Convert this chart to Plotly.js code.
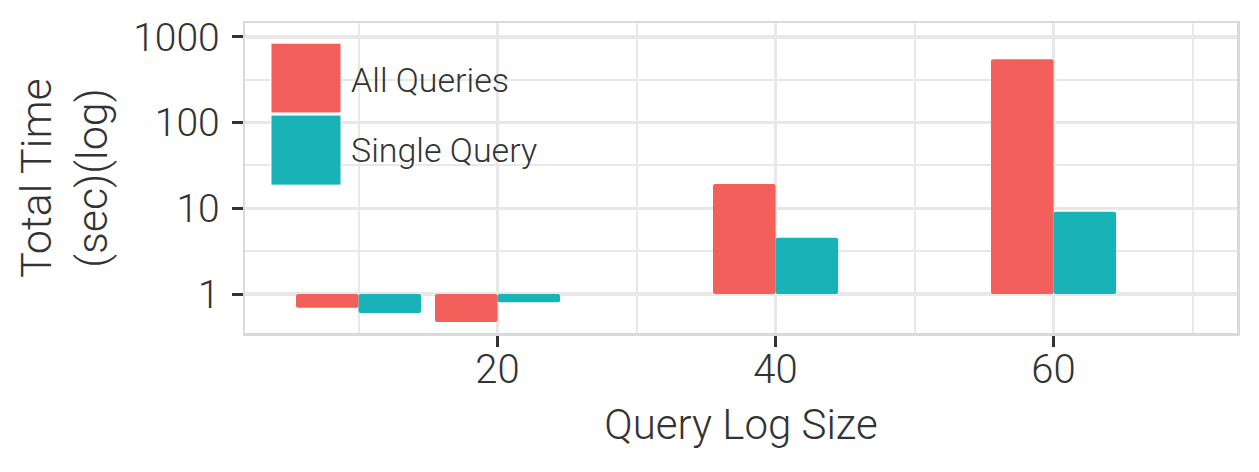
<!DOCTYPE html>
<html>
<head>
<meta charset="utf-8">
<script src="https://cdn.plot.ly/plotly-3.0.1.min.js"></script>
<style>html,body{margin:0;padding:0;background:#fff;}#chart{width:1259px;height:472px;}</style>
</head>
<body>
<div id="chart"></div>
<script>
// Data
var logSizes = [10, 20, 40, 60];
var allQueries = [0.69, 0.47, 19.2, 550];
var singleQuery = [0.60, 0.80, 4.54, 9.14];
var seriesNames = ['All Queries', 'Single Query'];
var yTickVals = [1, 10, 100, 1000];
var yTickText = ['1', '10', '100', '1000'];
var xTickVals = [20, 40, 60];

var RED = '#F35F5B', TEAL = '#19B3B7';
var FONT = 'Roboto';
var baseline = 1;
function rel(arr){ return arr.map(function(v){ return v - baseline; }); }

var traces = [
  {type:'bar', name:seriesNames[0], x:logSizes, y:rel(allQueries), base:baseline,
   marker:{color:RED, line:{width:0}, cornerradius:2}, showlegend:false, hoverinfo:'skip'},
  {type:'bar', name:seriesNames[1], x:logSizes, y:rel(singleQuery), base:baseline,
   marker:{color:TEAL, line:{width:0}, cornerradius:2}, showlegend:false, hoverinfo:'skip'}
];

var GRID = '#E8E8E8';
var layout = {
  width:1259, height:472,
  margin:{l:245, r:22, t:23, b:139},
  paper_bgcolor:'#ffffff', plot_bgcolor:'#ffffff',
  font:{family:FONT, weight:300, color:'#333333'},
  barmode:'group', bargap:0.1, bargroupgap:0,
  showlegend:false,
  xaxis:{
    range:[1.83, 73.2], tickvals:xTickVals, ticktext:xTickVals.map(String),
    ticks:'outside', ticklen:11, tickwidth:3, tickcolor:'#333333',
    tickfont:{family:FONT, weight:300, size:40, color:'#333333'},
    ticklabelstandoff:-12,
    showgrid:true, gridcolor:GRID, gridwidth:3.5,
    minor:{tickvals:[10,30,50,70], showgrid:true, gridcolor:GRID, gridwidth:2, ticks:''},
    showline:true, linecolor:'#DADADA', linewidth:2.5, mirror:true,
    zeroline:false,
    title:{text:'Query Log Size', font:{family:FONT, weight:300, size:42, color:'#333333'}, standoff:18}
  },
  yaxis:{
    type:'log', range:[-0.455, 3.163],
    tickvals:yTickVals, ticktext:yTickText,
    ticks:'outside', ticklen:11, tickwidth:3, tickcolor:'#333333',
    tickfont:{family:FONT, weight:300, size:39, color:'#333333'},
    ticklabelstandoff:4,
    showgrid:true, gridcolor:GRID, gridwidth:3.5,
    minor:{tickvals:[3.1623, 31.623, 316.23], showgrid:true, gridcolor:GRID, gridwidth:2, ticks:''},
    showline:true, linecolor:'#DADADA', linewidth:2.5, mirror:true,
    zeroline:false,
    title:{text:'Total Time<br>(sec)(log)', font:{family:FONT, weight:300, size:43, color:'#333333'}, standoff:12}
  },
  shapes:[
    {type:'rect', xref:'paper', yref:'paper', x0:0.0262, x1:0.0968, y0:0.710, y1:0.935,
     fillcolor:RED, line:{width:1, color:'#ffffff'}},
    {type:'rect', xref:'paper', yref:'paper', x0:0.0262, x1:0.0968, y0:0.477, y1:0.703,
     fillcolor:TEAL, line:{width:1, color:'#ffffff'}}
  ],
  annotations:[
    {xref:'paper', yref:'paper', x:0.1045, y:0.816, xanchor:'left', yanchor:'middle', showarrow:false,
     text:seriesNames[0], font:{family:FONT, weight:300, size:34, color:'#333333'}},
    {xref:'paper', yref:'paper', x:0.1045, y:0.590, xanchor:'left', yanchor:'middle', showarrow:false,
     text:seriesNames[1], font:{family:FONT, weight:300, size:34, color:'#333333'}}
  ]
};

Plotly.newPlot('chart', traces, layout, {displayModeBar:false, staticPlot:true});
</script>
</body>
</html>
